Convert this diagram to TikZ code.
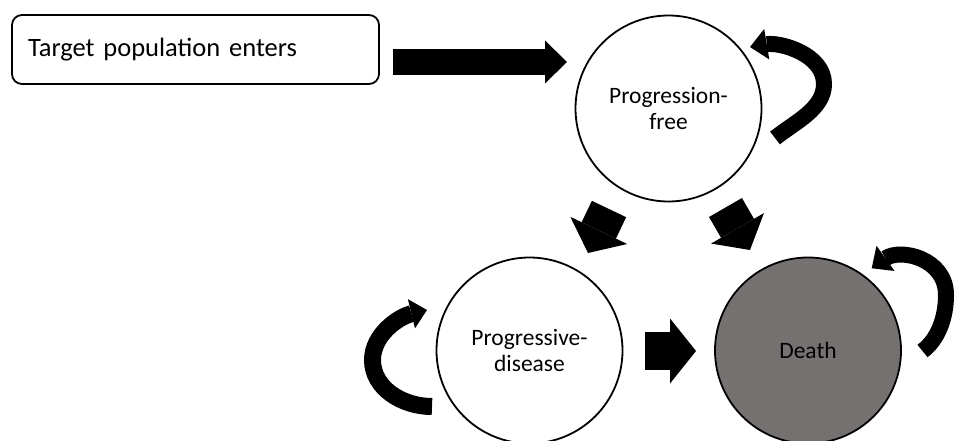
\documentclass[tikz,border=0pt]{standalone}
\usepackage{fontspec}
\setmainfont{Carlito}
\usetikzlibrary{arrows.meta}
\definecolor{deathgray}{HTML}{767171}
\begin{document}
\begin{tikzpicture}[x=1pt,y=-1pt,
  state/.style={circle, draw=black, line width=1.8pt, minimum size=186pt, inner sep=0pt, align=center, font=\fontsize{23.5}{25.6}\selectfont},
  entrybox/.style={draw=black, line width=1.8pt, rounded corners=10pt, minimum height=69pt, text width=335pt, inner xsep=16pt, align=left, font=\fontsize{26.5}{30}\selectfont},
  barrow/.style n args={3}{line width=#1, -{Triangle[width=#2,length=#3,line width=0pt]}},
  looparrow/.style n args={3}{line width=#1, -{Triangle[width=#2,length=#3,line width=0pt]}}
]
\useasboundingbox (0,0) rectangle (956,441);

\node[entrybox] (tp) at (195.5,49.5) {Target population enters};
\node[state] (pf) at (668.5,108.5) {Progression-\\free};
\node[state] (pd) at (529.5,350.5) {Progressive-\\disease};
\node[state, fill=deathgray] (de) at (808,350.5) {Death};

% straight block arrows
\coordinate (a1s) at (393,62);   \coordinate (a1e) at (567,62);
\coordinate (a2s) at (609,209);  \coordinate (a2e) at (588,253);
\coordinate (a3s) at (725.5,207.5); \coordinate (a3e) at (750,250);
\coordinate (a4s) at (645,351);  \coordinate (a4e) at (696,351);
\draw[barrow={26pt}{43pt}{22pt}] (a1s) -- (a1e);
\draw[barrow={38pt}{63pt}{25pt}] (a2s) -- (a2e);
\draw[barrow={38pt}{61pt}{25pt}] (a3s) -- (a3e);
\draw[barrow={38pt}{65pt}{26pt}] (a4s) -- (a4e);

% self loops
\coordinate (pft) at (775,138); \coordinate (pfm) at (824,84); \coordinate (pfe) at (750,47);
\draw[looparrow={16pt}{31pt}{17pt}] (pft) .. controls (795,122) and (824,109) .. (pfm) .. controls (824,54) and (780,42) .. (pfe);

\coordinate (det) at (922.5,351); \coordinate (dem) at (946,295); \coordinate (dee) at (871.7,268.3);
\draw[looparrow={16pt}{31pt}{17pt}] (det) .. controls (938.5,339) and (946,317) .. (dem) .. controls (946,258) and (900,248) .. (dee);

\coordinate (pdt) at (432,406.5); \coordinate (pdm) at (372.5,360); \coordinate (pde) at (427,310);
\draw[looparrow={17pt}{30pt}{16pt}] (pdt) .. controls (402,406.5) and (372.5,388) .. (pdm) .. controls (372.5,335) and (398,317) .. (pde);
\end{tikzpicture}
\end{document}
